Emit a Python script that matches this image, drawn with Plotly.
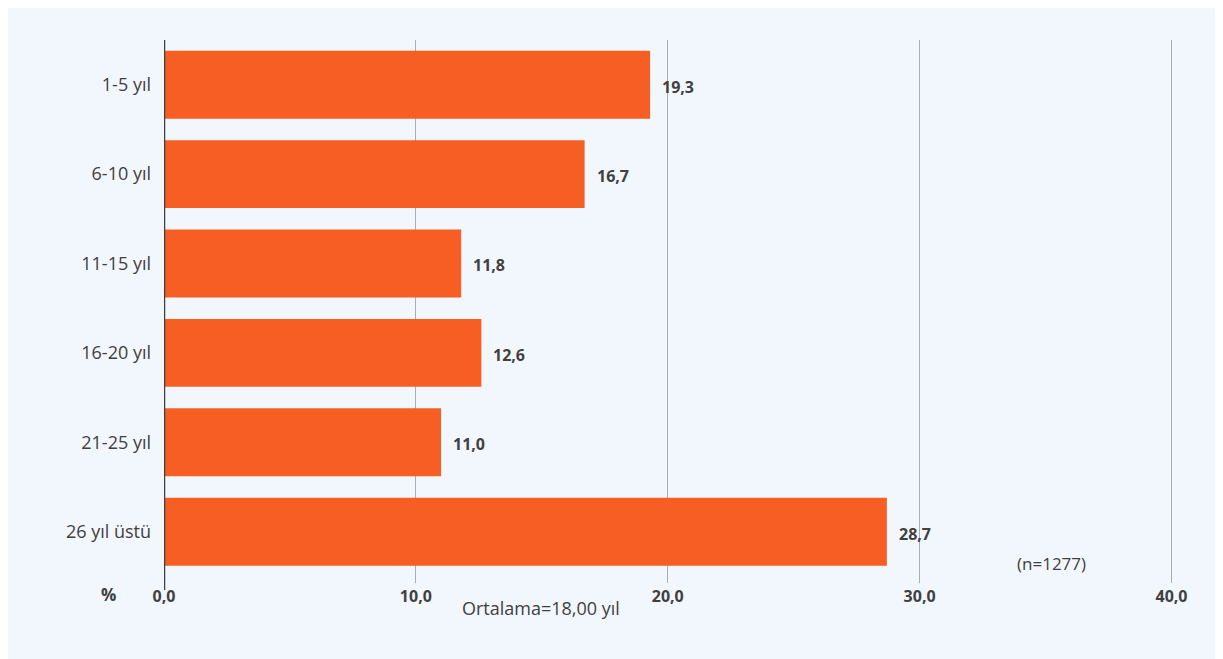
import plotly.graph_objects as go

categories = ["1-5 yıl", "6-10 yıl", "11-15 yıl", "16-20 yıl", "21-25 yıl", "26 yıl üstü"]
values = [19.3, 16.7, 11.8, 12.6, 11.0, 28.7]
tick_vals = [0, 10, 20, 30, 40]
tick_text = ["0,0", "10,0", "20,0", "30,0", "40,0"]

BAR = "#F65E23"
TXT = "#404040"
BG = "#F2F7FD"
FONT = "Open Sans"

fig = go.Figure()
fig.add_trace(go.Bar(
    x=values, y=categories, orientation="h",
    marker=dict(color=BAR, line=dict(width=0)),
    width=0.76,
    hoverinfo="skip",
))

for c, v in zip(categories, values):
    fig.add_annotation(
        x=v, y=c, xref="x", yref="y", text=f"{v:.1f}".replace(".", ","),
        showarrow=False, xanchor="left", xshift=10, yshift=-2,
        font=dict(family=FONT, size=16, color=TXT, weight="bold"),
    )

fig.add_annotation(x=-0.0554, y=-0.0203, xref="paper", yref="paper", text="%",
                   showarrow=False, xanchor="center", yanchor="middle",
                   font=dict(family=FONT, size=17, color=TXT, weight="bold"))
fig.add_annotation(x=0.293, y=-0.046, xref="paper", yref="paper", text="Ortalama=18,00 yıl",
                   showarrow=False, xanchor="left", yanchor="middle",
                   font=dict(family=FONT, size=18, color=TXT))
fig.add_annotation(x=0.879, y=0.0368, xref="paper", yref="paper", text="(n=1277)",
                   showarrow=False, xanchor="center", yanchor="middle",
                   font=dict(family=FONT, size=17, color=TXT))

# zero axis line extending below plot
fig.add_shape(type="line", xref="x", yref="paper", x0=0, x1=0, y0=-0.013, y1=1,
              line=dict(color=TXT, width=2.5))

fig.update_layout(
    width=1223, height=659,
    margin=dict(l=156, r=57, t=32, b=84),
    paper_bgcolor=BG, plot_bgcolor=BG,
    showlegend=False,
    xaxis=dict(range=[0, 40.1], tickvals=tick_vals, ticktext=tick_text,
               showgrid=True, gridcolor="#ADADAD", gridwidth=1,
               zeroline=False, showline=False, ticks="",
               tickfont=dict(family=FONT, size=16, color=TXT, weight="bold"),
               ticklabelstandoff=2, fixedrange=True),
    yaxis=dict(range=[5.574, -0.5], showgrid=False, zeroline=False, showline=False,
               ticks="", ticklabelstandoff=12,
               tickfont=dict(family=FONT, size=18, color=TXT), fixedrange=True),
)

fig.write_html("out.html")
